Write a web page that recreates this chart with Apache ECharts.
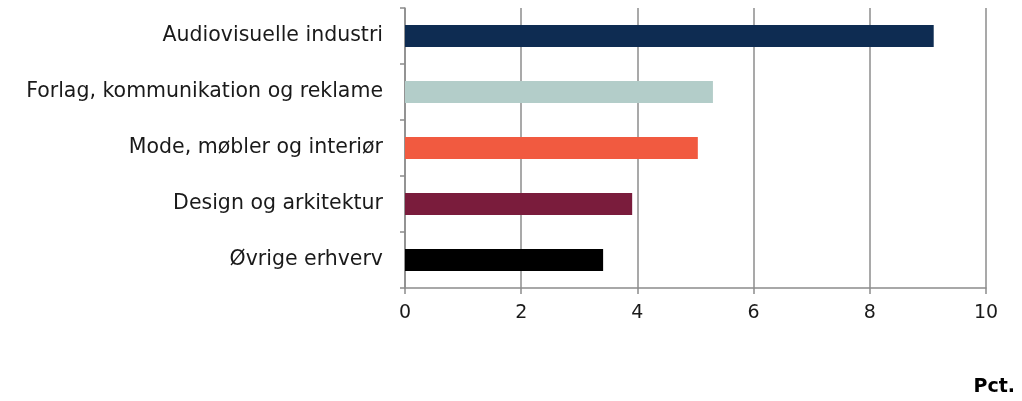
<!DOCTYPE html>
<html>
<head>
<meta charset="utf-8">
<script src="https://cdn.jsdelivr.net/npm/echarts@6/dist/echarts.min.js"></script>
<style>
  html, body { margin: 0; padding: 0; background: #fff; }
  #chart { width: 1022px; height: 401px; }
</style>
</head>
<body>
<div id="chart"></div>
<script>
// kategorier (øverst først)
const categories = ['Audiovisuelle industri', 'Forlag, kommunikation og reklame', 'Mode, møbler og interiør', 'Design og arkitektur', 'Øvrige erhverv']
// værdier i pct.
const values = [9.1, 5.3, 5.04, 3.91, 3.41]
const barColors = ['#0e2c52', '#b3cdc9', '#f15a40', '#7a1c3c', '#000000']
const xTicks = [0, 2, 4, 6, 8, 10]

const font = '"DejaVu Sans", sans-serif'
const axisGrey = '#8c8c8c'

const chart = echarts.init(document.getElementById('chart'))
chart.setOption({
  animation: false,
  grid: { left: 405, right: 36, top: 8, bottom: 113, containLabel: false },
  xAxis: {
    type: 'value',
    min: xTicks[0],
    max: xTicks[xTicks.length - 1],
    interval: 2,
    axisLine: { show: true, lineStyle: { color: axisGrey, width: 1.5 } },
    axisTick: { show: true, length: 6, lineStyle: { color: axisGrey, width: 1.5 } },
    splitLine: { show: true, lineStyle: { color: axisGrey, width: 1.5 } },
    axisLabel: { color: '#1a1a1a', fontSize: 19, fontFamily: font, margin: 16 }
  },
  yAxis: {
    type: 'category',
    data: categories,
    inverse: true,
    axisLine: { show: true, lineStyle: { color: axisGrey, width: 1.5 } },
    axisTick: { show: true, length: 5, lineStyle: { color: axisGrey, width: 1.5 } },
    axisLabel: { color: '#1a1a1a', fontSize: 20.5, fontFamily: font, margin: 22 }
  },
  series: [{
    type: 'bar',
    barWidth: 22,
    data: values.map((v, i) => ({ value: v, itemStyle: { color: barColors[i] } }))
  }],
  graphic: [{
    type: 'text',
    right: 7,
    bottom: 4,
    style: { text: 'Pct.', font: 'bold 19px ' + font, fill: '#000' }
  }]
})
</script>
</body>
</html>
